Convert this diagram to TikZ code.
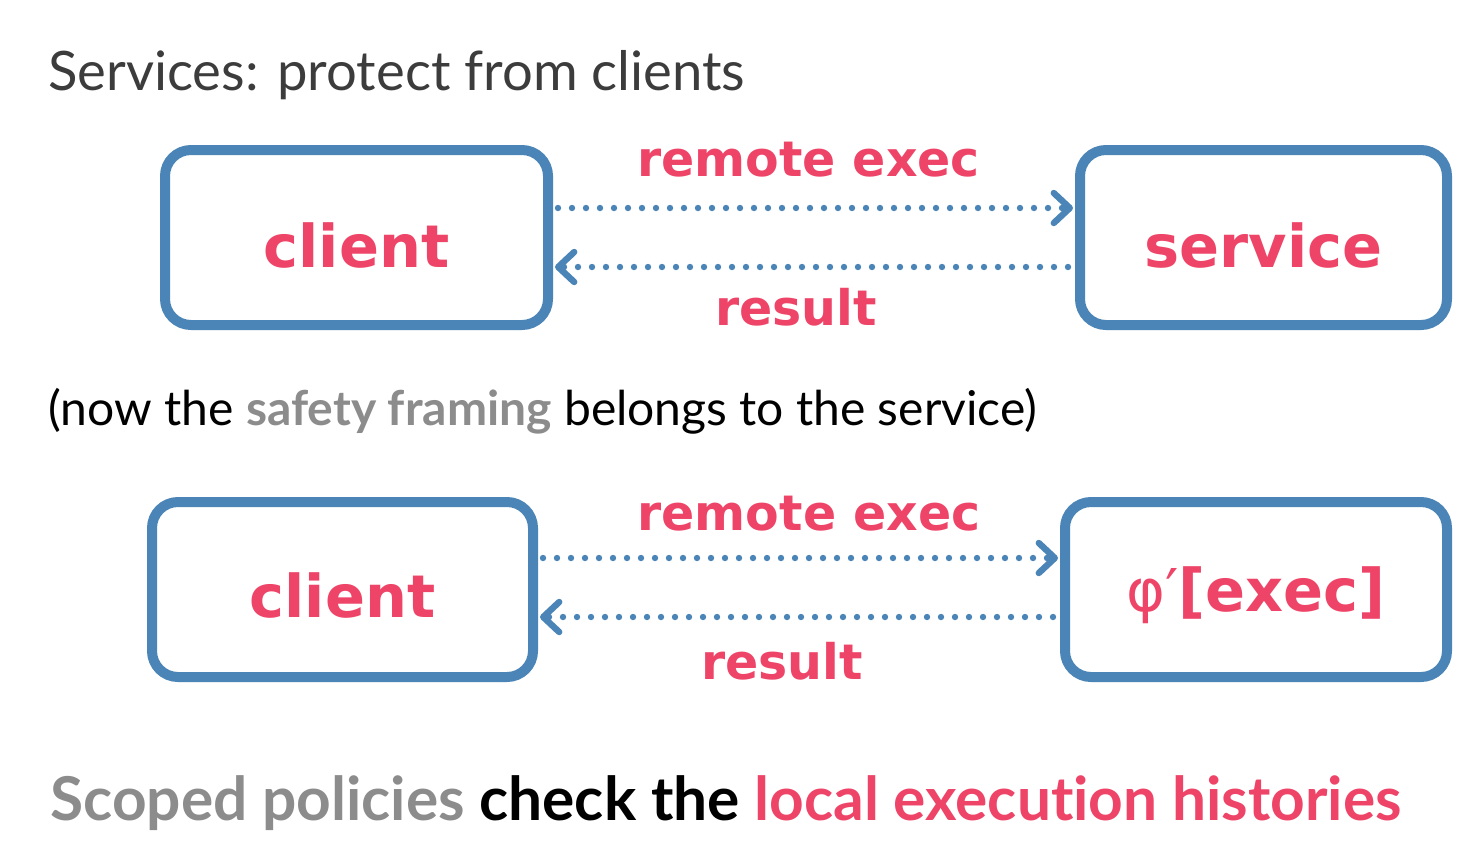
\documentclass[tikz,border=0pt]{standalone}
\usepackage{fontspec}
\setmainfont{Lato}[Ligatures=NoCommon]
\newfontfamily\cajafont{DejaVu Sans}
\usetikzlibrary{arrows.meta,positioning}
\usepackage{xcolor}
\definecolor{azulcaja}{HTML}{4B84B6}
\definecolor{rosa}{HTML}{EE4468}
\definecolor{gris}{HTML}{8C8C8C}
\definecolor{oscuro}{HTML}{3C3C3C}

\tikzset{
	caja/.style={draw=azulcaja, line width=5pt, rounded corners=13pt,
		minimum height=87.5pt, text=rosa, text height=29.5pt, text depth=0pt,
		font=\cajafont\bfseries\fontsize{29.5}{29.5}\selectfont},
	flecha/.style={->, draw=azulcaja, line width=3.2pt, line cap=round,
		dash pattern=on 0pt off 7pt},
	etiq/.style={text=rosa, inner sep=0pt,
		font=\cajafont\bfseries\fontsize{24.5}{24.5}\selectfont},
	texto/.style={anchor=base west, inner sep=0pt}
}

\begin{document}
\begin{tikzpicture}[x=0.5pt,y=-0.5pt,
		>={Straight Barb[length=8pt,width=15pt,round]}]
		\useasboundingbox (0,0) rectangle (1478,848);
		\def\dy{14.75pt}
		\def\dyb{15.75pt}
		% titulo
		\node[texto, text=oscuro, font=\fontsize{27.2}{27.2}\selectfont] (titulo) at (48,90) {Services: protect from clients};
		% arriba
		\node[caja, minimum width=191.5pt] (cliente1) at (356.5,237.5) {client};
		\node[caja, minimum width=183.5pt] (servicio) at (1263.5,237.5) {service};
		\draw[flecha, shorten <=2.5pt, shorten >=1pt] ([yshift=\dy]cliente1.east) -- ([yshift=\dy]servicio.west)
		node[etiq, midway, above=14pt, xshift=-2.75pt] (exec1) {remote exec};
		\draw[flecha, shorten <=3.5pt, shorten >=1pt] ([yshift=-\dy]servicio.west) -- ([yshift=-\dy]cliente1.east)
		node[etiq, midway, below=9pt, xshift=-9pt] (res1) {result};
		% nota
		\node[texto, font=\fontsize{24}{24}\selectfont] (nota) at (48,425) {(now the \textcolor{gris}{\bfseries safety framing} belongs to the service)};
		% abajo
		\node[caja, minimum width=190.5pt, text height=27.5pt] (cliente2) at (342.5,589.5) {client};
		\node[caja, minimum width=191pt, text height=22pt] (politica) at (1256,589.5) {{\mdseries φ′}[exec]};
		\draw[flecha, shorten <=2.5pt, shorten >=1pt] ([yshift=\dyb]cliente2.east) -- ([yshift=\dyb]politica.west)
		node[etiq, midway, above=12pt, xshift=5pt] (exec2) {remote exec};
		\draw[flecha, shorten <=3.5pt, shorten >=1pt] ([yshift=-13.75pt]politica.west) -- ([yshift=-13.75pt]cliente2.east)
		node[etiq, midway, below=11pt, xshift=-8.5pt] (res2) {result};
		% resumen
		\node[texto, font=\bfseries\fontsize{30.2}{30.2}\selectfont] (resumen) at (50,820) {\textcolor{gris}{Scoped policies} check the \textcolor{rosa}{local execution histories}};
\end{tikzpicture}
\end{document}
